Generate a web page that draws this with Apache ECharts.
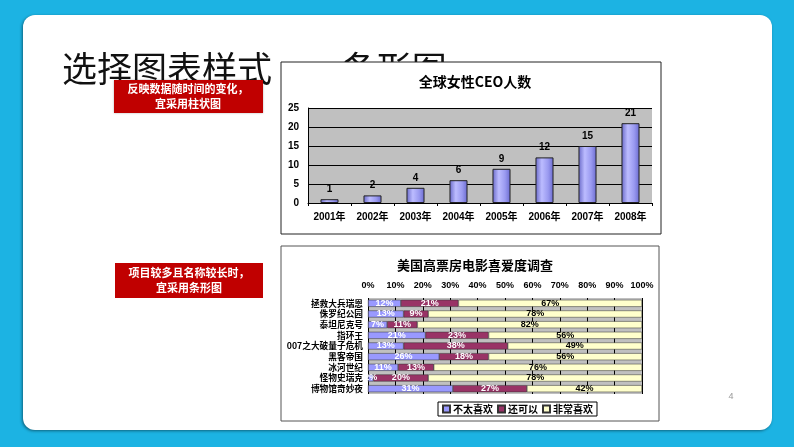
<!DOCTYPE html>
<html><head><meta charset="utf-8">
<script src="https://cdn.jsdelivr.net/npm/echarts@6/dist/echarts.min.js"></script>
<style>html,body{margin:0;padding:0;background:#1cb3e3;}#c{width:794px;height:447px;}</style>
</head><body><div id="c"></div>
<script>
const years = ['2001年','2002年','2003年','2004年','2005年','2006年','2007年','2008年'];
const ceoCounts = [1,2,4,6,9,12,15,21];
const movies = ['拯救大兵瑞恩','侏罗纪公园','泰坦尼克号','指环王','007之大破量子危机','黑客帝国','冰河世纪','怪物史瑞克','博物馆奇妙夜'];
const dislike = [12,13,7,21,13,26,11,2,31];
const okay = [21,9,11,23,38,18,13,20,27];
const love = [67,78,82,56,49,56,76,78,42];
const seriesNames = ['不太喜欢','还可以','非常喜欢'];

const CJK = '"Noto Sans CJK SC", "Liberation Sans", sans-serif';
const ARIAL = '"Liberation Sans", Arial, "Noto Sans CJK SC", sans-serif';

const chart = echarts.init(document.getElementById('c'));
const barGrad = new echarts.graphic.LinearGradient(0,0,1,0,[
  {offset:0,color:'#6868c8'},{offset:0.35,color:'#bcbcff'},{offset:0.7,color:'#9a9af0'},{offset:1,color:'#6a6ad0'}]);

chart.setOption({
  backgroundColor:'#1cb3e3',
  animation:false,
  graphic:[
    {type:'rect',z:-5,shape:{x:23,y:15,width:749,height:415,r:12},style:{fill:'#ffffff',shadowBlur:3,shadowColor:'rgba(0,0,0,0.45)',shadowOffsetX:-1,shadowOffsetY:1}},
    {type:'text',z:-4,left:62,top:51,style:{text:'选择图表样式',font:'35px '+CJK,fill:'#111'}},
    {type:'text',z:-4,left:283,top:51,style:{text:'——条形图',font:'35px '+CJK,fill:'#111'}},
    {type:'rect',z:-3,shape:{x:281,y:62,width:380,height:172},style:{fill:'#fff',stroke:'#222',lineWidth:1}},
    {type:'rect',z:-3,shape:{x:281,y:246,width:378,height:175},style:{fill:'#fff',stroke:'#555',lineWidth:1}},
    {type:'rect',z:-2,shape:{x:114,y:80,width:149,height:33},style:{fill:'#c00000',shadowBlur:2,shadowColor:'rgba(0,0,0,0.3)'}},
    {type:'text',z:-1,x:188,y:96,style:{text:'反映数据随时间的变化，\n宜采用柱状图',font:'bold 11px '+CJK,fill:'#fff',align:'center',verticalAlign:'middle',lineHeight:15}},
    {type:'rect',z:-2,shape:{x:115,y:263,width:148,height:35},style:{fill:'#c00000'}},
    {type:'text',z:-1,x:189,y:280,style:{text:'项目较多且名称较长时，\n宜采用条形图',font:'bold 11px '+CJK,fill:'#fff',align:'center',verticalAlign:'middle',lineHeight:15}},
    {type:'text',z:-1,x:731,y:397,style:{text:'4',font:'9px '+ARIAL,fill:'#999',align:'center',verticalAlign:'middle'}}
  ],
  title:[
    {text:'全球女性CEO人数',left:470,top:70,textAlign:'center',textStyle:{fontFamily:CJK,fontWeight:'bold',fontSize:14,color:'#000'}},
    {text:'美国高票房电影喜爱度调查',left:470,top:254,textAlign:'center',textStyle:{fontFamily:CJK,fontWeight:'bold',fontSize:13,color:'#000'}}
  ],
  legend:{
    data:seriesNames,left:438,top:402,itemWidth:7,itemHeight:7,itemGap:4,icon:'rect',
    borderColor:'#000',borderWidth:1,padding:[2,4],borderRadius:0,
    textStyle:{fontFamily:CJK,fontSize:10,fontWeight:'bold',color:'#000',padding:[0,0,0,-2]}
  },
  grid:[
    {left:308,top:108,width:344,height:95,show:true,backgroundColor:'#c0c0c0',borderWidth:0,z:1},
    {left:368,top:298,width:274,height:96,show:true,backgroundColor:'#c0c0c0',borderWidth:0,z:1}
  ],
  xAxis:[
    {type:'category',gridIndex:0,data:years,z:3,
      axisLine:{lineStyle:{color:'#000'}},axisTick:{show:true,length:3,lineStyle:{color:'#000'}},
      axisLabel:{fontFamily:ARIAL,fontWeight:'bold',fontSize:10,color:'#000',margin:9}},
    {type:'value',gridIndex:1,position:'top',min:0,max:100,interval:10,z:3,
      axisLine:{show:false},axisTick:{show:false},
      splitLine:{lineStyle:{color:'#000',width:1}},
      axisLabel:{formatter:'{value}%',fontFamily:ARIAL,fontWeight:'bold',fontSize:9,color:'#000',margin:8}}
  ],
  yAxis:[
    {type:'value',gridIndex:0,min:0,max:25,interval:5,z:3,
      axisLine:{show:true,lineStyle:{color:'#000'}},axisTick:{show:false},
      splitLine:{lineStyle:{color:'#000',width:1}},
      axisLabel:{fontFamily:ARIAL,fontWeight:'bold',fontSize:10,color:'#000',margin:9}},
    {type:'category',gridIndex:1,data:movies,inverse:true,z:3,
      axisLine:{show:false},axisTick:{show:false},
      axisLabel:{interval:0,fontFamily:CJK,fontWeight:'bold',fontSize:8.7,lineHeight:10,color:'#000',margin:5}}
  ],
  series:[
    {type:'bar',xAxisIndex:0,yAxisIndex:0,data:ceoCounts,barWidth:'42%',z:4,
      itemStyle:{color:barGrad,borderColor:'#222',borderWidth:1},
      label:{show:true,position:'top',distance:5,fontFamily:ARIAL,fontWeight:'bold',fontSize:10,color:'#000'}},
    {type:'bar',name:seriesNames[0],xAxisIndex:1,yAxisIndex:1,stack:'s',data:dislike,barWidth:'66%',z:4,
      itemStyle:{color:'#9999ff',borderColor:'#333',borderWidth:0.5},
      label:{show:true,position:'inside',formatter:'{c}%',fontFamily:ARIAL,fontWeight:'bold',fontSize:9,color:'#fff'}},
    {type:'bar',name:seriesNames[1],xAxisIndex:1,yAxisIndex:1,stack:'s',data:okay,z:4,
      itemStyle:{color:'#993366',borderColor:'#333',borderWidth:0.5},
      label:{show:true,position:'inside',formatter:'{c}%',fontFamily:ARIAL,fontWeight:'bold',fontSize:9,color:'#fff'}},
    {type:'bar',name:seriesNames[2],xAxisIndex:1,yAxisIndex:1,stack:'s',data:love,z:4,
      itemStyle:{color:'#ffffcc',borderColor:'#333',borderWidth:0.5},
      label:{show:true,position:'inside',formatter:'{c}%',fontFamily:ARIAL,fontWeight:'bold',fontSize:9,color:'#000'}}
  ]
});
</script></body></html>
